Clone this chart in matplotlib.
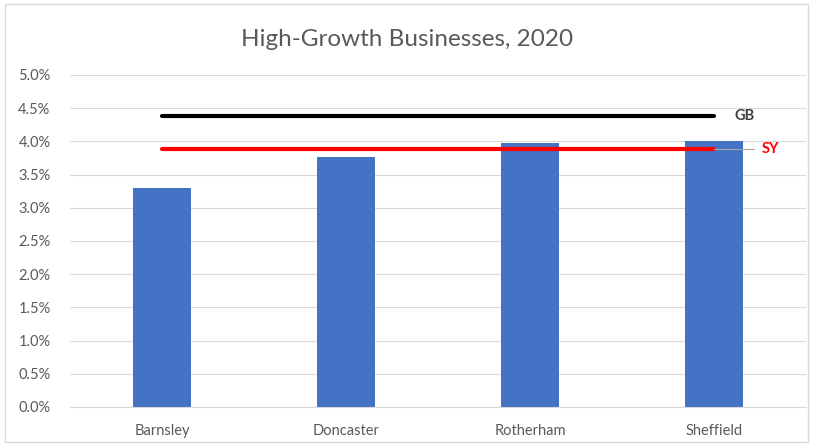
import matplotlib
matplotlib.use("Agg")
import matplotlib.pyplot as plt
from matplotlib.ticker import PercentFormatter, MultipleLocator
from matplotlib.patches import Rectangle
import numpy as np

plt.rcParams["font.family"] = ["Lato", "DejaVu Sans"]

areas = ["Barnsley", "Doncaster", "Rotherham", "Sheffield"]
share = [0.0330, 0.0377, 0.0398, 0.0401]
gb_rate = 0.0439
sy_rate = 0.0389

BAR_BLUE = "#4472C4"
TEXT_GREY = "#595959"
GRID_GREY = "#d9d9d9"

fig = plt.figure(figsize=(8.14, 4.46), dpi=100)
ax = fig.add_axes([70 / 814, 39 / 446, 736 / 814, 332 / 446])

x = np.arange(len(areas))
ax.bar(x, share, width=0.31, color=BAR_BLUE, zorder=2)

# benchmark lines across the four districts
ax.plot(x, [gb_rate] * len(x), color="black", lw=3, solid_capstyle="round", zorder=3)
ax.plot(x, [sy_rate] * len(x), color="#ff0000", lw=3, solid_capstyle="round", zorder=3)

ax.text(x[-1] + 0.11, gb_rate, "GB", color="#404040", fontsize=10.5,
        fontweight="bold", va="center", ha="left")
ax.plot([x[-1], x[-1] + 0.22], [sy_rate, sy_rate], color="#a6a6a6", lw=0.8, zorder=3)
ax.text(x[-1] + 0.26, sy_rate, "SY", color="#ff0000", fontsize=10.5,
        fontweight="bold", va="center", ha="left")

ax.set_xlim(-0.5, len(areas) - 0.5)
ax.set_ylim(0, 0.05)
ax.yaxis.set_major_locator(MultipleLocator(0.005))
ax.yaxis.set_major_formatter(PercentFormatter(1.0, decimals=1))
ax.set_xticks(x)
ax.set_xticklabels(areas)
ax.tick_params(axis="both", length=0, labelsize=10.5, colors=TEXT_GREY)
ax.tick_params(axis="x", pad=12)
ax.tick_params(axis="y", pad=14)
ax.grid(axis="y", color=GRID_GREY, lw=0.8, zorder=0)
for side in ["top", "right", "left"]:
    ax.spines[side].set_visible(False)
ax.spines["bottom"].set_color(GRID_GREY)

fig.text(0.5, 1 - 40 / 446, "High-Growth Businesses, 2020", ha="center", va="center",
         fontsize=17.5, color=TEXT_GREY)

# chart area border
fig.patches.append(Rectangle((5 / 814, 4 / 446), 803 / 814, 438 / 446,
                             transform=fig.transFigure, fill=False,
                             edgecolor="#d9d9d9", lw=1))

fig.savefig("out.png", dpi=100)
